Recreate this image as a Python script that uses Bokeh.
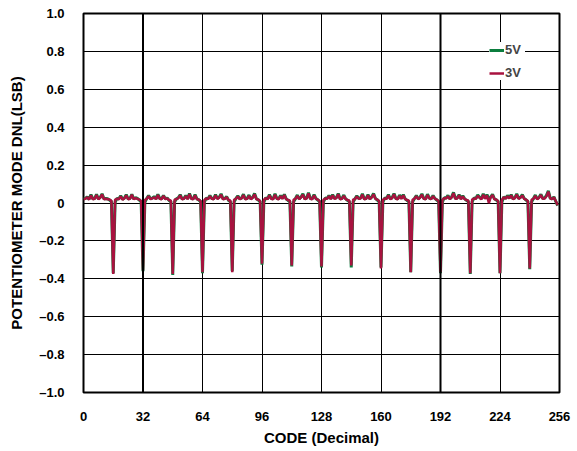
from bokeh.plotting import figure
from bokeh.models import (FixedTicker, CustomJSTickFormatter, Legend, LegendItem,
                          Range1d, Span)
from bokeh.embed import file_html
from bokeh.resources import INLINE

# ---- data -------------------------------------------------------------
x_ticks = [0, 32, 64, 96, 128, 160, 192, 224, 256]
y_ticks = [-1.0, -0.8, -0.6, -0.4, -0.2, 0.0, 0.2, 0.4, 0.6, 0.8, 1.0]

codes = list(range(256))

# 3V DNL, one row per 16 codes (code 16k .. 16k+15)
dnl_3v_rows = [
    [0.020, 0.022, 0.030, 0.018, 0.040, 0.020, 0.022, 0.042, 0.020, 0.028, 0.045, 0.020, 0.022, 0.020, 0.018, 0.012],
    [-0.375, 0.018, 0.022, 0.020, 0.035, 0.018, 0.024, 0.040, 0.020, 0.022, 0.044, 0.020, 0.026, 0.022, 0.018, 0.010],
    [-0.355, 0.016, 0.022, 0.036, 0.020, 0.024, 0.030, 0.020, 0.042, 0.022, 0.020, 0.038, 0.020, 0.024, 0.016, 0.012],
    [-0.375, 0.018, 0.020, 0.026, 0.040, 0.020, 0.022, 0.036, 0.020, 0.046, 0.022, 0.020, 0.040, 0.020, 0.018, 0.010],
    [-0.365, 0.016, 0.024, 0.020, 0.036, 0.022, 0.020, 0.040, 0.022, 0.028, 0.044, 0.020, 0.022, 0.030, 0.016, 0.012],
    [-0.365, 0.018, 0.022, 0.034, 0.020, 0.024, 0.042, 0.020, 0.022, 0.038, 0.020, 0.028, 0.046, 0.020, 0.018, 0.010],
    [-0.320, 0.016, 0.026, 0.020, 0.040, 0.022, 0.020, 0.044, 0.022, 0.020, 0.036, 0.022, 0.042, 0.020, 0.016, 0.012],
    [-0.330, 0.018, 0.022, 0.038, 0.020, 0.030, 0.044, 0.020, 0.024, 0.050, 0.022, 0.020, 0.040, 0.022, 0.018, 0.010],
    [-0.335, 0.016, 0.024, 0.022, 0.036, 0.020, 0.040, 0.022, 0.026, 0.046, 0.020, 0.022, 0.038, 0.020, 0.016, 0.012],
    [-0.330, 0.018, 0.020, 0.034, 0.022, 0.024, 0.044, 0.020, 0.022, 0.040, 0.020, 0.030, 0.046, 0.022, 0.018, 0.010],
    [-0.345, 0.016, 0.024, 0.022, 0.040, 0.020, 0.026, 0.046, 0.022, 0.020, 0.038, 0.022, 0.040, 0.020, 0.016, 0.012],
    [-0.365, 0.018, 0.022, 0.036, 0.020, 0.028, 0.044, 0.022, 0.020, 0.042, 0.024, 0.020, 0.036, 0.022, 0.018, 0.010],
    [-0.365, 0.016, 0.026, 0.024, 0.036, 0.020, 0.030, 0.052, 0.022, 0.024, 0.040, 0.020, 0.034, 0.020, 0.016, 0.012],
    [-0.370, 0.018, 0.024, 0.022, 0.038, 0.028, 0.020, 0.044, 0.022, 0.040, 0.000, 0.030, 0.042, 0.020, 0.018, 0.010],
    [-0.370, 0.016, 0.030, 0.022, 0.036, 0.024, 0.040, 0.020, 0.026, 0.044, 0.022, 0.028, 0.040, 0.022, 0.018, 0.010],
    [-0.345, 0.018, 0.022, 0.038, 0.020, 0.028, 0.042, 0.022, 0.024, 0.036, 0.060, 0.024, 0.020, 0.030, 0.010, -0.012],
]

# 5V DNL
dnl_5v_rows = [
    [0.022, 0.024, 0.032, 0.020, 0.044, 0.022, 0.024, 0.046, 0.022, 0.030, 0.048, 0.022, 0.024, 0.022, 0.016, 0.008],
    [-0.370, 0.004, 0.024, 0.022, 0.038, 0.020, 0.026, 0.044, 0.022, 0.024, 0.046, 0.022, 0.028, 0.024, 0.016, 0.008],
    [-0.360, 0.004, 0.024, 0.040, 0.022, 0.026, 0.034, 0.022, 0.046, 0.024, 0.022, 0.040, 0.022, 0.026, 0.014, 0.008],
    [-0.380, 0.006, 0.022, 0.028, 0.044, 0.022, 0.024, 0.040, 0.022, 0.050, 0.024, 0.022, 0.044, 0.022, 0.016, 0.008],
    [-0.370, 0.004, 0.026, 0.022, 0.040, 0.024, 0.022, 0.044, 0.024, 0.030, 0.048, 0.022, 0.024, 0.034, 0.014, 0.008],
    [-0.360, 0.006, 0.024, 0.038, 0.022, 0.026, 0.046, 0.022, 0.024, 0.042, 0.022, 0.030, 0.050, 0.022, 0.016, 0.008],
    [-0.325, 0.004, 0.028, 0.022, 0.044, 0.024, 0.022, 0.048, 0.024, 0.022, 0.040, 0.024, 0.046, 0.022, 0.014, 0.008],
    [-0.335, 0.006, 0.024, 0.042, 0.022, 0.032, 0.048, 0.022, 0.026, 0.054, 0.024, 0.022, 0.044, 0.024, 0.016, 0.008],
    [-0.340, 0.004, 0.026, 0.024, 0.040, 0.022, 0.044, 0.024, 0.028, 0.050, 0.022, 0.024, 0.042, 0.022, 0.014, 0.008],
    [-0.340, 0.006, 0.022, 0.038, 0.024, 0.026, 0.048, 0.022, 0.024, 0.044, 0.022, 0.032, 0.050, 0.024, 0.016, 0.008],
    [-0.340, 0.004, 0.026, 0.024, 0.044, 0.022, 0.028, 0.050, 0.024, 0.022, 0.042, 0.024, 0.044, 0.022, 0.014, 0.008],
    [-0.365, 0.006, 0.024, 0.040, 0.022, 0.030, 0.048, 0.024, 0.022, 0.046, 0.026, 0.022, 0.040, 0.024, 0.016, 0.008],
    [-0.370, 0.004, 0.028, 0.026, 0.040, 0.022, 0.032, 0.056, 0.024, 0.026, 0.044, 0.022, 0.038, 0.022, 0.014, 0.008],
    [-0.375, 0.006, 0.026, 0.024, 0.042, 0.030, 0.022, 0.048, 0.024, 0.044, 0.020, 0.032, 0.046, 0.022, 0.016, 0.008],
    [-0.370, 0.004, 0.032, 0.024, 0.040, 0.026, 0.044, 0.022, 0.028, 0.048, 0.024, 0.030, 0.044, 0.024, 0.016, 0.008],
    [-0.350, 0.006, 0.024, 0.042, 0.022, 0.030, 0.046, 0.024, 0.026, 0.040, 0.064, 0.026, 0.022, 0.032, 0.008, -0.014],
]

dnl_3v = [v for row in dnl_3v_rows for v in row]
dnl_5v = [v for row in dnl_5v_rows for v in row]

series_labels = ["5V", "3V"]
GREEN = "#0B7D3E"
RED = "#A8123F"
FONT = "Liberation Sans"

# ---- figure -----------------------------------------------------------
p = figure(frame_width=476, frame_height=379,
           x_range=Range1d(0, 256), y_range=Range1d(-1, 1),
           output_backend="svg", toolbar_location=None,
           min_border_left=83, min_border_right=16,
           min_border_top=13, min_border_bottom=56,
           background_fill_color="white", border_fill_color="white")

p.outline_line_color = "black"
p.outline_line_width = 2

# grid
for g in (p.xgrid, p.ygrid):
    g.grid_line_color = "black"
    g.grid_line_width = 1
    g.grid_line_alpha = 1.0
p.xgrid.ticker = FixedTicker(ticks=x_ticks)
p.ygrid.ticker = FixedTicker(ticks=y_ticks)
for loc in (32, 192):
    p.add_layout(Span(location=loc, dimension="height", line_color="black", line_width=2))

# axes
p.xaxis.ticker = FixedTicker(ticks=x_ticks)
p.yaxis.ticker = FixedTicker(ticks=y_ticks)
p.yaxis.formatter = CustomJSTickFormatter(
    code="if (Math.abs(tick) < 1e-9) { return '0'; } return tick.toFixed(1).replace('-', '\\u2013');")
for ax in (p.xaxis, p.yaxis):
    ax.axis_line_color = None
    ax.major_tick_line_color = None
    ax.minor_tick_line_color = None
    ax.major_label_text_font = FONT
    ax.major_label_text_font_style = "bold"
    ax.major_label_text_font_size = "13px"
    ax.major_label_text_color = "black"
    ax.axis_label_text_font = FONT
    ax.axis_label_text_font_style = "bold"
    ax.axis_label_text_font_size = "15px"
    ax.axis_label_text_color = "black"
p.xaxis.axis_label = "CODE (Decimal)"
p.yaxis.axis_label = "POTENTIOMETER MODE DNL(LSB)"
p.xaxis.major_label_standoff = 13
p.yaxis.major_label_standoff = 13
p.xaxis.axis_label_standoff = 5
p.yaxis.axis_label_standoff = 11

# lines
r5 = p.line(codes, dnl_5v, line_color=GREEN, line_width=3)
r3 = p.line(codes, dnl_3v, line_color=RED, line_width=2.5)

legend = Legend(items=[LegendItem(label=series_labels[0], renderers=[r5]),
                       LegendItem(label=series_labels[1], renderers=[r3])],
                location=(406, 312))
legend.background_fill_color = "white"
legend.background_fill_alpha = 1.0
legend.border_line_color = None
legend.label_text_font = FONT
legend.label_text_font_style = "bold"
legend.label_text_font_size = "13px"
legend.glyph_width = 15
legend.glyph_height = 14
legend.label_height = 14
legend.label_width = 20
legend.label_standoff = 1
legend.spacing = 8
legend.padding = 12
legend.margin = 0
p.add_layout(legend)

open("out.html", "w").write(file_html(p, INLINE))
